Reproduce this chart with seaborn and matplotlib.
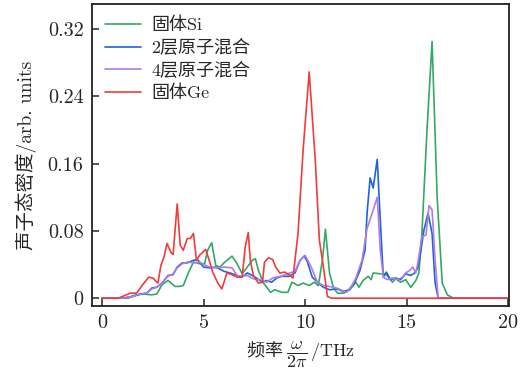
import numpy as np
import pandas as pd
import matplotlib
matplotlib.use("Agg")
import matplotlib.pyplot as plt
import seaborn as sns

# Phonon density of states, frequency in THz
si_freq = [0, 1.3, 1.5, 2.0, 2.45, 2.7, 2.95, 3.25, 3.6, 3.8, 4.0, 4.25, 4.5, 4.8, 5.05,
           5.2, 5.4, 5.6, 5.8, 6.05, 6.4, 6.65, 6.9, 7.15, 7.4, 7.55, 7.7, 7.95, 8.3, 8.5,
           8.85, 9.15, 9.35, 9.65, 9.9, 10.2, 10.45, 10.65, 10.85, 11.0, 11.2, 11.4, 11.6,
           11.9, 12.2, 12.5, 12.65, 12.85, 13.1, 13.25, 13.35, 13.7, 13.95, 14.1, 14.3,
           14.45, 14.7, 14.95, 15.2, 15.45, 15.6, 15.75, 16.0, 16.25, 16.5, 16.75, 17.0,
           17.3, 20.0]
si_dos = [0, 0, 0.003, 0.005, 0.004, 0.005, 0.016, 0.021, 0.014, 0.014, 0.015, 0.030,
          0.043, 0.041, 0.041, 0.057, 0.066, 0.039, 0.037, 0.043, 0.050, 0.041, 0.029,
          0.037, 0.045, 0.047, 0.033, 0.018, 0.007, 0.010, 0.007, 0.007, 0.019, 0.015,
          0.018, 0.015, 0.019, 0.015, 0.045, 0.082, 0.030, 0.012, 0.006, 0.006, 0.010,
          0.019, 0.013, 0.021, 0.026, 0.022, 0.030, 0.029, 0.029, 0.025, 0.019, 0.023,
          0.019, 0.022, 0.013, 0.021, 0.030, 0.077, 0.200, 0.305, 0.120, 0.018, 0.004,
          0, 0]

mix2_freq = [0, 1.0, 1.5, 1.9, 2.2, 2.45, 2.7, 2.95, 3.25, 3.5, 3.7, 3.95, 4.2, 4.5, 4.7,
             5.0, 5.3, 5.6, 6.0, 6.3, 6.65, 6.9, 7.15, 7.4, 7.6, 7.9, 8.1, 8.35, 8.6, 8.85,
             9.2, 9.5, 9.75, 9.95, 10.1, 10.35, 10.65, 10.9, 11.2, 11.55, 11.9, 12.15,
             12.45, 12.7, 12.95, 13.05, 13.2, 13.35, 13.55, 13.7, 13.85, 14.0, 14.2, 14.45,
             14.7, 14.95, 15.2, 15.4, 15.55, 15.7, 15.85, 16.05, 16.25, 16.4, 16.55, 20.0]
mix2_dos = [0, 0, 0.002, 0.005, 0.006, 0.012, 0.013, 0.018, 0.027, 0.028, 0.037, 0.042,
            0.042, 0.045, 0.046, 0.037, 0.036, 0.037, 0.032, 0.030, 0.027, 0.025, 0.030,
            0.027, 0.024, 0.019, 0.021, 0.019, 0.024, 0.026, 0.026, 0.030, 0.045, 0.050,
            0.044, 0.025, 0.018, 0.013, 0.010, 0.011, 0.008, 0.010, 0.019, 0.033, 0.057,
            0.101, 0.143, 0.131, 0.165, 0.093, 0.025, 0.031, 0.022, 0.024, 0.022, 0.029,
            0.027, 0.030, 0.036, 0.057, 0.081, 0.101, 0.077, 0.018, 0, 0]

mix4_freq = [0, 1.0, 1.5, 1.9, 2.2, 2.45, 2.7, 2.95, 3.25, 3.5, 3.7, 3.95, 4.2, 4.5, 4.8,
             5.0, 5.3, 5.6, 6.05, 6.4, 6.65, 6.9, 7.15, 7.45, 7.8, 8.1, 8.4, 8.8, 9.25,
             9.5, 9.75, 10.0, 10.3, 10.6, 10.9, 11.2, 11.55, 12.05, 12.3, 12.5, 12.8, 13.05,
             13.3, 13.55, 13.7, 13.85, 14.05, 14.3, 14.55, 14.8, 14.95, 15.15, 15.3, 15.45,
             15.55, 15.75, 15.95, 16.1, 16.25, 16.4, 16.55, 20.0]
mix4_dos = [0, 0, 0.002, 0.005, 0.006, 0.011, 0.013, 0.018, 0.026, 0.029, 0.036, 0.041,
            0.043, 0.042, 0.043, 0.040, 0.037, 0.036, 0.037, 0.036, 0.027, 0.026, 0.027,
            0.023, 0.022, 0.019, 0.024, 0.026, 0.030, 0.032, 0.045, 0.051, 0.037, 0.019,
            0.015, 0.014, 0.012, 0.007, 0.015, 0.024, 0.045, 0.083, 0.101, 0.120, 0.057,
            0.025, 0.022, 0.024, 0.022, 0.025, 0.030, 0.033, 0.037, 0.030, 0.042, 0.073,
            0.075, 0.110, 0.105, 0.045, 0, 0]

ge_freq = [0, 0.8, 1.0, 1.4, 1.7, 2.0, 2.3, 2.5, 2.75, 2.9, 3.05, 3.2, 3.4, 3.5, 3.7,
           3.85, 4.0, 4.2, 4.35, 4.5, 4.65, 4.8, 5.1, 5.2, 5.45, 5.7, 5.9, 6.15, 6.4,
           6.65, 6.9, 7.05, 7.2, 7.3, 7.45, 7.7, 7.9, 8.0, 8.2, 8.4, 8.55, 8.75, 9.0,
           9.25, 9.4, 9.65, 9.9, 10.2, 10.5, 10.7, 10.9, 11.1, 11.3, 20.0]
ge_dos = [0, 0, 0.002, 0.006, 0.006, 0.016, 0.025, 0.024, 0.018, 0.039, 0.049, 0.065,
          0.054, 0.052, 0.112, 0.063, 0.057, 0.071, 0.071, 0.077, 0.045, 0.051, 0.058,
          0.051, 0.031, 0.018, 0.011, 0.030, 0.028, 0.025, 0.025, 0.061, 0.078, 0.045,
          0.027, 0.018, 0.019, 0.043, 0.048, 0.046, 0.037, 0.030, 0.031, 0.027, 0.024,
          0.077, 0.176, 0.269, 0.164, 0.069, 0.037, 0.002, 0, 0]

labels = ["固体Si", "2层原子混合", "4层原子混合", "固体Ge"]
colors = ["#35a862", "#1f64d8", "#b07ce6", "#f03c3c"]
x_ticks = [0, 5, 10, 15, 20]
y_ticks = [0, 0.08, 0.16, 0.24, 0.32]
y_tick_labels = ["0", "0.08", "0.16", "0.24", "0.32"]

frames = []
for lab, f, d in zip(labels, [si_freq, mix2_freq, mix4_freq, ge_freq],
                     [si_dos, mix2_dos, mix4_dos, ge_dos]):
    frames.append(pd.DataFrame({"freq": f, "dos": d, "sample": lab}))
df = pd.concat(frames, ignore_index=True)

sns.set_style("ticks")
plt.rcParams["font.family"] = ["cmr10", "Noto Sans CJK SC", "DejaVu Sans"]
plt.rcParams["mathtext.fontset"] = "cm"
plt.rcParams["axes.formatter.use_mathtext"] = True
plt.rcParams["axes.unicode_minus"] = False

fig = plt.figure(figsize=(5.25, 3.78), dpi=100)
ax = fig.add_axes([0.175, 0.19, 0.795, 0.80])

sns.lineplot(data=df, x="freq", y="dos", hue="sample", hue_order=labels,
             palette=dict(zip(labels, colors)), linewidth=1.2, sort=False,
             estimator=None, ax=ax)

ax.set_xlim(-0.5, 20.05)
ax.set_ylim(-0.0095, 0.35)
ax.set_xticks(x_ticks)
ax.set_xticklabels([str(t) for t in x_ticks])
ax.set_yticks(y_ticks)
ax.set_yticklabels(y_tick_labels)
ax.tick_params(direction="in", length=5, width=1.1, labelsize=14.5, pad=6)
for sp in ax.spines.values():
    sp.set_linewidth(1.3)
    sp.set_color("#222222")

ax.set_xlabel(r"频率 $\dfrac{\omega}{2\pi}\,/\mathrm{THz}$", fontsize=13,
              labelpad=5, family=["Noto Sans CJK SC"])
ax.set_ylabel("声子态密度/arb. units", fontsize=14, labelpad=8)

leg = ax.legend(loc="upper left", frameon=False, fontsize=13, handlelength=2.0,
                handletextpad=0.6, labelspacing=0.32, borderaxespad=0.3,
                bbox_to_anchor=(0.0, 1.0))

fig.savefig("out.png", dpi=100)
